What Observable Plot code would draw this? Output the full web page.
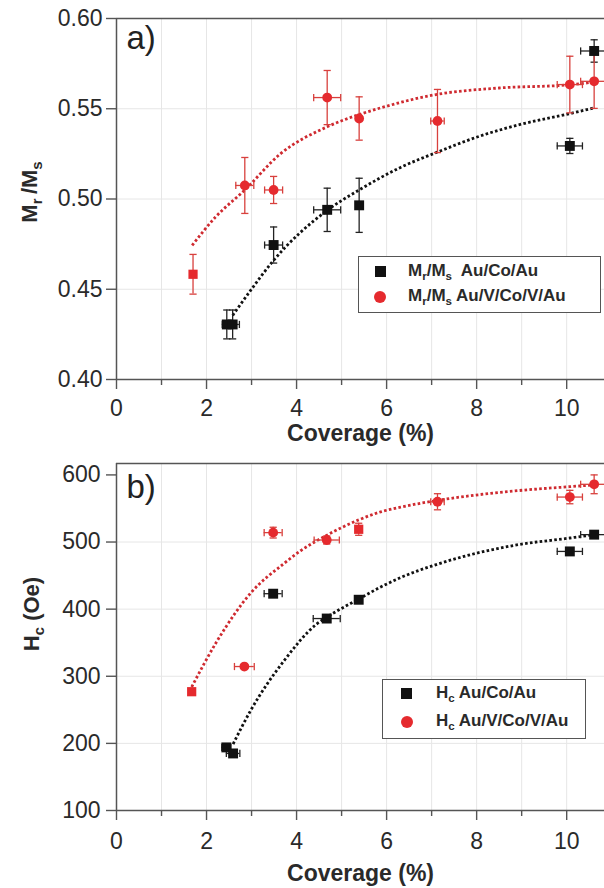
<!DOCTYPE html>
<html><head><meta charset="utf-8">
<script src="https://cdn.jsdelivr.net/npm/d3@7"></script>
<script src="https://cdn.jsdelivr.net/npm/@observablehq/plot@0.6"></script>
<style>
body{margin:0;background:#fff;font-family:"Liberation Sans",Arial,sans-serif;}
#wrap{position:relative;width:604px;height:888px;overflow:hidden;background:#fff;}
#wrap svg{display:block}
.ylab{position:absolute;font-weight:bold;font-size:22px;color:#2a2a2a;transform:translate(-50%,-50%) rotate(-90deg);white-space:nowrap;line-height:1;}
.legend{position:absolute;border:1.5px solid #555;background:#fff;box-sizing:border-box;}
.item{position:absolute;font-weight:bold;font-size:17px;color:#2a2a2a;white-space:nowrap;line-height:20px;}
.sq{position:absolute;width:11px;height:11px;background:#111}
.ci{position:absolute;width:12px;height:12px;border-radius:50%;background:#e52a2e}
sub{font-size:0.68em;vertical-align:-0.35em;line-height:0}
g[aria-label="x-axis label"] text{font-weight:bold}
</style></head>
<body><div id="wrap"></div>
<script>
// ---------- data: panel a) Mr/Ms ----------
const mrCoX    = [2.45, 2.58, 3.49, 4.68, 5.39, 10.07, 10.61];
const mrCoY    = [0.4305, 0.4305, 0.4745, 0.494, 0.4965, 0.5294, 0.582];
const mrCoXErr = [0.10, 0.15, 0.20, 0.30, 0, 0.28, 0.30];
const mrCoYErr = [0.008, 0.008, 0.010, 0.012, 0.015, 0.0042, 0.0062];

const mrVX     = [1.70, 2.85, 3.49, 4.68, 5.39, 7.13, 10.07, 10.61];
const mrVY     = [0.4583, 0.5075, 0.505, 0.5562, 0.5446, 0.5432, 0.5634, 0.5652];
const mrVXErr  = [0, 0.20, 0.20, 0.30, 0, 0.15, 0.28, 0.30];
const mrVYErr  = [0.011, 0.0155, 0.0075, 0.015, 0.012, 0.0175, 0.0157, 0.015];
const mrVShape = ["square","circle","circle","circle","circle","circle","circle","circle"];

const mrCoFitX = [2.58, 2.98, 3.46, 4.68, 5.39, 6.31, 7.13, 8.09, 9.0, 10.07, 10.61];
const mrCoFitY = [0.4355, 0.4494, 0.4651, 0.4937, 0.505, 0.5175, 0.526, 0.535, 0.5415, 0.5473, 0.5505];
const mrVFitX  = [1.68, 2.2, 2.85, 3.64, 4.68, 5.39, 5.87, 7.13, 8.5, 10.07, 10.61];
const mrVFitY  = [0.4743, 0.490, 0.505, 0.525, 0.540, 0.5468, 0.5505, 0.558, 0.5615, 0.5633, 0.5648];

// ---------- data: panel b) Hc ----------
const hcCoX    = [2.44, 2.59, 3.48, 4.67, 5.38, 10.07, 10.61];
const hcCoY    = [194, 185, 423, 386, 414, 486, 511];
const hcCoXErr = [0.10, 0.15, 0.20, 0.30, 0, 0.28, 0.30];
const hcCoYErr = [0, 0, 0, 0, 0, 0, 0];

const hcVX     = [1.67, 2.84, 3.48, 4.67, 5.38, 7.13, 10.07, 10.61];
const hcVY     = [277, 314.5, 514, 503, 519, 560, 567, 586];
const hcVXErr  = [0, 0.22, 0.20, 0.28, 0, 0.15, 0.28, 0.30];
const hcVYErr  = [0, 0, 8, 6, 9, 12, 10, 14];
const hcVShape = ["square","circle","circle","circle","square","circle","circle","circle"];

const hcCoFitX = [2.59, 2.98, 3.72, 4.45, 4.67, 5.38, 5.87, 6.31, 7.13, 8.83, 10.07, 10.61];
const hcCoFitY = [199, 249, 323, 378, 388, 415, 433, 447, 467, 495, 506, 511];
const hcVFitX  = [1.67, 2.23, 2.98, 3.72, 4.09, 4.64, 5.38, 5.87, 6.31, 7.13, 8.83, 10.07, 10.61];
const hcVFitY  = [284, 352, 424, 468, 487, 509, 533, 545, 552, 562, 576, 582.5, 585];

// ---------- ticks ----------
const xMajor = [0, 2, 4, 6, 8, 10];
const xMinor = [1, 3, 5, 7, 9];
const xGrid  = [1, 2, 3, 4, 5, 6, 7, 8, 9, 10];
const mrTicks = [0.40, 0.45, 0.50, 0.55, 0.60];
const hcTicks = [100, 200, 300, 400, 500, 600];

const BLACK = "#111", RED = "#e52a2e", REDBAR = "#d8403d", REDFIT = "#cf2a30", AX = "#555";

const rows = (xs, ys, xe, ye, sh) => xs.map((x, i) => ({x, y: ys[i], xe: xe[i], ye: ye[i], shape: sh ? sh[i] : "square"}));
const pts = (xs, ys) => xs.map((x, i) => ({x, y: ys[i]}));

const capH = {draw(ctx, size){const r = Math.sqrt(size/Math.PI); ctx.moveTo(-r,0); ctx.lineTo(r,0);}};
const capV = {draw(ctx, size){const r = Math.sqrt(size/Math.PI); ctx.moveTo(0,-r); ctx.lineTo(0,r);}};

function errMarks(data, col) {
  const yd = data.filter(d => d.ye > 0), xd = data.filter(d => d.xe > 0);
  const s = {stroke: col, strokeWidth: 1.3};
  return [
    Plot.ruleX(yd, {x: "x", y1: d => d.y - d.ye, y2: d => d.y + d.ye, ...s}),
    Plot.dot(yd, {x: "x", y: d => d.y - d.ye, symbol: capH, r: 3.6, ...s}),
    Plot.dot(yd, {x: "x", y: d => d.y + d.ye, symbol: capH, r: 3.6, ...s}),
    Plot.ruleY(xd, {y: "y", x1: d => d.x - d.xe, x2: d => d.x + d.xe, ...s}),
    Plot.dot(xd, {x: d => d.x - d.xe, y: "y", symbol: capV, r: 3.6, ...s}),
    Plot.dot(xd, {x: d => d.x + d.xe, y: "y", symbol: capV, r: 3.6, ...s})
  ];
}

const fitStyle = {curve: "monotone-x", strokeWidth: 2.8, strokeLinecap: "butt", strokeDasharray: "2.6 2.3"};

function panel(o) {
  const [y0, y1] = o.yDomain;
  return Plot.plot({
    width: 604, height: o.height,
    marginLeft: 116, marginRight: 0, marginTop: o.mt, marginBottom: o.mb,
    style: {fontSize: "23px", fontFamily: "'Liberation Sans', Arial, sans-serif", color: "#2a2a2a", background: "white", overflow: "visible"},
    x: {domain: [0, 10.84]},
    y: {domain: o.yDomain},
    marks: [
      Plot.gridX(xGrid, {stroke: "#e6e6e6", strokeOpacity: 1, strokeWidth: 1}),
      Plot.gridY(o.yTicks.slice(1, -1), {stroke: "#e6e6e6", strokeOpacity: 1, strokeWidth: 1}),
      Plot.axisY({ticks: o.yTicks, tickSize: 10, tickPadding: o.yPad, tickFormat: o.yFormat, stroke: AX, strokeWidth: 1.4, label: null}),
      Plot.axisX({ticks: xMajor, tickSize: 10, tickPadding: o.xPad, stroke: AX, strokeWidth: 1.4, label: "Coverage (%)", labelAnchor: "center", labelArrow: "none", labelOffset: o.labelOffset}),
      Plot.axisX({ticks: xMinor, tickSize: 6, stroke: AX, strokeWidth: 1.4, text: null, label: null}),
      Plot.ruleY([y0], {stroke: AX, strokeWidth: 1.5}),
      Plot.ruleY([y1], {stroke: AX, strokeWidth: 1.5}),
      Plot.ruleX([0], {stroke: AX, strokeWidth: 1.5}),
      Plot.text([o.label], {frameAnchor: "top-left", dx: 10, dy: o.labelDy, text: d => d, fontSize: 33, textAnchor: "start", lineAnchor: "bottom", fill: "#222"}),
      Plot.line(o.coFit, {x: "x", y: "y", stroke: "#111", ...fitStyle}),
      Plot.line(o.vFit, {x: "x", y: "y", stroke: REDFIT, ...fitStyle}),
      ...errMarks(o.co, "#222"),
      ...errMarks(o.v, REDBAR),
      Plot.dot(o.co, {x: "x", y: "y", symbol: "square", r: 5.6, fill: BLACK, stroke: null}),
      Plot.dot(o.v.filter(d => d.shape === "square"), {x: "x", y: "y", symbol: "square", r: 5.2, fill: RED, stroke: null}),
      Plot.dot(o.v.filter(d => d.shape === "circle"), {x: "x", y: "y", symbol: "circle", r: 4.9, fill: RED, stroke: null})
    ]
  });
}

const wrap = document.getElementById("wrap");
wrap.append(panel({
  height: 446, mt: 18, mb: 67, yDomain: [0.40, 0.60], yTicks: mrTicks, yFormat: d3.format(".2f"), yPad: 4, xPad: 10, labelOffset: 61,
  label: "a)", labelDy: 30,
  co: rows(mrCoX, mrCoY, mrCoXErr, mrCoYErr), v: rows(mrVX, mrVY, mrVXErr, mrVYErr, mrVShape),
  coFit: pts(mrCoFitX, mrCoFitY), vFit: pts(mrVFitX, mrVFitY)
}));
wrap.append(panel({
  height: 442, mt: 17, mb: 78, yDomain: [100, 617], yTicks: hcTicks, yFormat: d3.format("d"), yPad: 6, xPad: 12, labelOffset: 70,
  label: "b)", labelDy: 34,
  co: rows(hcCoX, hcCoY, hcCoXErr, hcCoYErr), v: rows(hcVX, hcVY, hcVXErr, hcVYErr, hcVShape),
  coFit: pts(hcCoFitX, hcCoFitY), vFit: pts(hcVFitX, hcVFitY)
}));

// ---------- overlays: y titles and legends ----------
const html = `
<div class="ylab" style="left:30px;top:192px">M<sub>r</sub>&#8201;/M<sub>s</sub></div>
<div class="ylab" style="left:32px;top:614px">H<sub>c</sub> (Oe)</div>
<div class="legend" style="left:358px;top:256px;width:243px;height:57px"></div>
<div class="sq" style="left:375px;top:266px"></div>
<div class="item" style="left:408px;top:261px">M<sub>r</sub>/M<sub>s</sub>&nbsp; Au/Co/Au</div>
<div class="ci" style="left:374px;top:291px"></div>
<div class="item" style="left:408px;top:286px">M<sub>r</sub>/M<sub>s</sub> Au/V/Co/V/Au</div>
<div class="legend" style="left:382px;top:679px;width:204px;height:60px"></div>
<div class="sq" style="left:401px;top:688px"></div>
<div class="item" style="left:436px;top:683px">H<sub>c</sub> Au/Co/Au</div>
<div class="ci" style="left:401px;top:716px"></div>
<div class="item" style="left:436px;top:711px">H<sub>c</sub> Au/V/Co/V/Au</div>`;
wrap.insertAdjacentHTML("beforeend", html);
</script>
</body></html>
